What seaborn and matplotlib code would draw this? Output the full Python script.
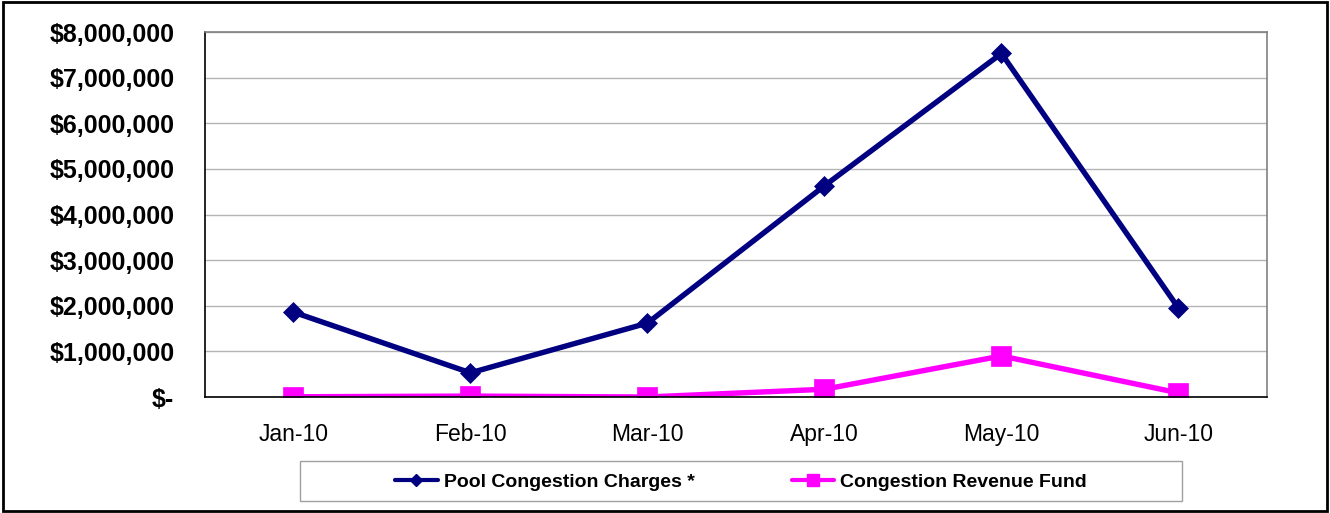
import numpy as np
import pandas as pd
import seaborn as sns
import matplotlib.pyplot as plt
from matplotlib.lines import Line2D
from matplotlib.patches import Rectangle
from matplotlib.ticker import FuncFormatter

months = ["Jan-10", "Feb-10", "Mar-10", "Apr-10", "May-10", "Jun-10"]
pool_charges = [1860000, 530000, 1620000, 4630000, 7530000, 1950000]
revenue_fund = [5000, 20000, 0, 170000, 900000, 90000]
series_names = ["Pool Congestion Charges *", "Congestion Revenue Fund"]
y_ticks = [0, 1000000, 2000000, 3000000, 4000000, 5000000, 6000000, 7000000, 8000000]

colors = ["#000080", "#FF00FF"]
markers = ["D", "s"]

sns.set_style("white")
plt.rcParams["font.family"] = ["Liberation Sans", "DejaVu Sans"]
plt.rcParams["text.color"] = "black"
plt.rcParams["xtick.color"] = "black"
plt.rcParams["ytick.color"] = "black"

df = pd.DataFrame({
    "month": months * 2,
    "value": pool_charges + revenue_fund,
    "series": [series_names[0]] * len(months) + [series_names[1]] * len(months),
})
df["pos"] = df["month"].map({m: i for i, m in enumerate(months)})

fig = plt.figure(figsize=(13.3, 5.13), dpi=100)
ax = fig.add_axes([0.1541, 0.2261, 0.7985, 0.7115])

sns.lineplot(
    data=df, x="pos", y="value", hue="series", style="series",
    markers=markers, dashes=False, palette=colors,
    linewidth=3.9, legend=False, ax=ax,
)
sizes = [10, 14.5]
for line, ms in zip(ax.lines[:2], sizes):
    line.set_markersize(ms)
    line.set_markeredgecolor(line.get_color())
    line.set_markeredgewidth(0.5)

ax.set_xlim(-0.5, len(months) - 0.5)
ax.set_ylim(0, 8000000)
ax.set_xlabel("")
ax.set_ylabel("")

ax.set_xticks(range(len(months)))
ax.set_xticklabels(months, fontsize=16.5)
ax.set_xticks(np.arange(-0.5, len(months), 1.0), minor=True)
ax.tick_params(axis="x", which="major", length=0, pad=19)
ax.tick_params(axis="x", which="minor", length=4.5, color="#808080", direction="out")

ax.set_yticks(y_ticks)
ax.yaxis.set_major_formatter(FuncFormatter(lambda v, p: "$-" if v == 0 else f"${v:,.0f}"))
ax.tick_params(axis="y", length=4.5, color="#808080", labelcolor="black",
               direction="out", labelsize=18, pad=17.5)
for lbl in ax.get_yticklabels():
    lbl.set_fontweight("bold")

ax.grid(axis="y", color="#b4b4b4", linewidth=1)
ax.set_axisbelow(True)
ax.spines["left"].set_color("black")
ax.spines["bottom"].set_color("black")
ax.spines["top"].set_color("#808080")
ax.spines["right"].set_color("#808080")
for s in ax.spines.values():
    s.set_linewidth(1.2)

# legend box below the plot, with smaller legend markers like the original
fig.patches.append(Rectangle((300 / 1330, 12 / 513), 882 / 1330, 40 / 513,
                             transform=fig.transFigure, fill=False,
                             edgecolor="#a0a0a0", linewidth=1))
handles = [Line2D([], [], color=c, marker=m, markersize=ms, linewidth=3)
           for c, m, ms in zip(colors, markers, [6.5, 9])]
fig.legend(handles, series_names, loc="center", ncol=2,
           bbox_to_anchor=(741 / 1330, 31 / 513), frameon=False,
           prop={"weight": "bold", "size": 14}, handlelength=2.2,
           columnspacing=5.0, handletextpad=0.3)

# outer border
fig.patches.append(Rectangle((0.002, 0.003), 0.996, 0.994, transform=fig.transFigure,
                             fill=False, edgecolor="black", linewidth=2))

fig.savefig("out.png", dpi=100)
